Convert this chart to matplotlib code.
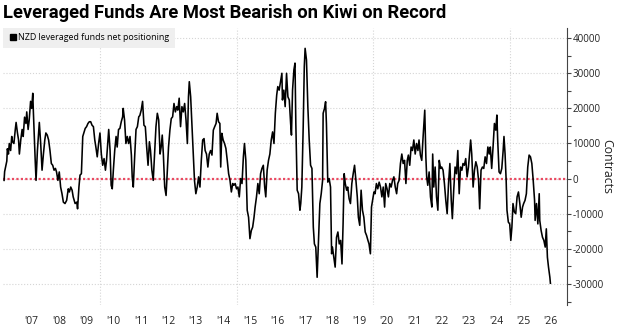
import matplotlib
matplotlib.use("Agg")
import matplotlib.pyplot as plt
from matplotlib.lines import Line2D
from matplotlib.ticker import FuncFormatter, MultipleLocator, FixedLocator

# NZD leveraged funds net positioning, thousands of contracts
dates = [
    2006.49, 2006.51, 2006.59, 2006.61, 2006.65, 2006.68, 2006.73, 2006.77, 2006.80, 2006.85,
    2006.90, 2006.93, 2006.98, 2007.02, 2007.05, 2007.10, 2007.15, 2007.19, 2007.24, 2007.29,
    2007.32, 2007.37, 2007.41, 2007.46, 2007.50, 2007.54, 2007.56, 2007.60, 2007.63, 2007.66,
    2007.71, 2007.78, 2007.83, 2007.88, 2007.93, 2007.98, 2008.02, 2008.07, 2008.12, 2008.17,
    2008.22, 2008.27, 2008.32, 2008.37, 2008.41, 2008.46, 2008.51, 2008.56, 2008.61, 2008.66,
    2008.72, 2008.78, 2008.84, 2008.88, 2008.93, 2008.98, 2009.02, 2009.09, 2009.15, 2009.18,
    2009.23, 2009.27, 2009.32, 2009.37, 2009.41, 2009.46, 2009.51, 2009.56, 2009.61, 2009.66,
    2009.71, 2009.76, 2009.81, 2009.85, 2009.90, 2009.95, 2010.00, 2010.05, 2010.10, 2010.15,
    2010.20, 2010.24, 2010.32, 2010.37, 2010.41, 2010.45, 2010.49, 2010.54, 2010.59, 2010.63,
    2010.68, 2010.73, 2010.78, 2010.83, 2010.85, 2010.90, 2010.95, 2011.00, 2011.05, 2011.10,
    2011.15, 2011.18, 2011.22, 2011.27, 2011.32, 2011.37, 2011.42, 2011.46, 2011.51, 2011.56,
    # 2011 - 2016
    2011.61, 2011.66, 2011.71, 2011.76, 2011.81, 2011.85, 2011.90, 2011.95, 2012.00, 2012.05,
    2012.10, 2012.15, 2012.20, 2012.24, 2012.28, 2012.32, 2012.37, 2012.42, 2012.46, 2012.51,
    2012.56, 2012.61, 2012.66, 2012.71, 2012.76, 2012.81, 2012.85, 2012.90, 2012.95, 2013.00,
    2013.05, 2013.10, 2013.15, 2013.20, 2013.24, 2013.27, 2013.32, 2013.37, 2013.42, 2013.46,
    2013.51, 2013.56, 2013.61, 2013.66, 2013.71, 2013.76, 2013.81, 2013.85, 2013.90, 2013.95,
    2014.00, 2014.05, 2014.10, 2014.15, 2014.20, 2014.25, 2014.29, 2014.34, 2014.39, 2014.42,
    2014.46, 2014.51, 2014.56, 2014.61, 2014.66, 2014.71, 2014.76, 2014.81, 2014.86, 2014.90,
    2014.95, 2015.00, 2015.05, 2015.10, 2015.15, 2015.20, 2015.25, 2015.29, 2015.34, 2015.39,
    2015.44, 2015.49, 2015.54, 2015.59, 2015.64, 2015.68, 2015.73, 2015.78, 2015.83, 2015.88,
    2015.93, 2015.98, 2016.03, 2016.07, 2016.12, 2016.17, 2016.22, 2016.27, 2016.32, 2016.37,
    2016.42, 2016.47, 2016.51, 2016.56, 2016.61, 2016.66,
    # 2016 - 2021
    2016.68, 2016.73, 2016.78, 2016.83, 2016.88, 2016.93, 2016.98, 2017.01, 2017.05, 2017.10,
    2017.14, 2017.17, 2017.22, 2017.27, 2017.32, 2017.35, 2017.39, 2017.44, 2017.48, 2017.51,
    2017.56, 2017.61, 2017.66, 2017.71, 2017.76, 2017.81, 2017.85, 2017.90, 2017.95, 2018.00,
    2018.05, 2018.10, 2018.15, 2018.17, 2018.22, 2018.26, 2018.29, 2018.34, 2018.39, 2018.44,
    2018.48, 2018.51, 2018.56, 2018.61, 2018.66, 2018.71, 2018.76, 2018.81, 2018.86, 2018.90,
    2018.94, 2018.98, 2019.03, 2019.07, 2019.12, 2019.17, 2019.22, 2019.27, 2019.32, 2019.37,
    2019.42, 2019.46, 2019.51, 2019.56, 2019.61, 2019.66, 2019.71, 2019.76, 2019.81, 2019.85,
    2019.90, 2019.94, 2019.98, 2020.03, 2020.07, 2020.12, 2020.17, 2020.22, 2020.27, 2020.32,
    2020.37, 2020.42, 2020.46, 2020.51, 2020.56, 2020.61, 2020.66, 2020.71, 2020.76, 2020.81,
    2020.86, 2020.90, 2020.95, 2021.00, 2021.05, 2021.10, 2021.15, 2021.20, 2021.25, 2021.29,
    2021.34, 2021.39, 2021.44, 2021.49, 2021.54, 2021.59, 2021.64, 2021.68, 2021.73, 2021.78,
    2021.83, 2021.89,
    # 2021 - 2026
    2021.93, 2021.96, 2022.00, 2022.05, 2022.10, 2022.15, 2022.18, 2022.22, 2022.27, 2022.32,
    2022.37, 2022.42, 2022.47, 2022.51, 2022.56, 2022.61, 2022.66, 2022.71, 2022.76, 2022.81,
    2022.86, 2022.90, 2022.95, 2023.00, 2023.05, 2023.10, 2023.15, 2023.20, 2023.25, 2023.29,
    2023.34, 2023.39, 2023.44, 2023.49, 2023.54, 2023.57, 2023.61, 2023.66, 2023.71, 2023.76,
    2023.81, 2023.86, 2023.90, 2023.95, 2024.00, 2024.05, 2024.10, 2024.15, 2024.20, 2024.25,
    2024.29, 2024.34, 2024.39, 2024.44, 2024.49, 2024.53, 2024.56, 2024.61, 2024.66, 2024.71,
    2024.76, 2024.79, 2024.83, 2024.87, 2024.90, 2024.95, 2025.00, 2025.04, 2025.08, 2025.12,
    2025.17, 2025.22, 2025.27, 2025.32, 2025.37, 2025.42, 2025.47, 2025.51, 2025.56, 2025.61,
    2025.66, 2025.71, 2025.76, 2025.81, 2025.86, 2025.91, 2025.93, 2025.98, 2026.03, 2026.08,
    2026.10, 2026.15, 2026.20, 2026.25, 2026.30, 2026.34, 2026.38, 2026.42, 2026.47, 2026.49,
]
net_k = [
    -0.5, 2.0, 5.0, 8.5, 7.0, 10.0, 8.0, 12.0, 10.5, 10.0,
    14.0, 16.0, 13.0, 11.0, 7.0, 11.0, 14.0, 12.0, 17.5, 15.7,
    19.0, 14.0, 16.7, 22.0, 20.0, 24.3, 19.5, 11.0, 5.0, -0.5,
    8.0, 16.0, 10.0, 2.4, 7.0, 11.0, 13.0, 12.4, 11.0, 8.0,
    4.3, 3.8, 2.4, 2.9, 1.9, -0.5, 1.9, -2.4, -4.3, -6.7,
    -7.1, -6.2, -2.9, -3.8, -2.4, -3.3, -5.2, -7.1, -6.7, -8.6,
    -2.4, 1.0, 1.4, 12.0, 13.0, 14.3, 14.8, 15.7, 16.2, 16.2,
    15.2, 14.8, 11.0, 9.0, 6.2, 10.0, 13.0, 7.0, 3.8, 5.7,
    2.4, 5.2, 14.0, 8.0, -1.9, -2.9, 2.4, 8.0, 12.0, 9.0,
    14.0, 14.3, 16.2, 17.6, 20.0, 16.7, 10.0, 12.0, 10.0, 12.0,
    6.7, 0.5, -2.4, 6.2, 14.0, 14.8, 17.6, 18.0, 19.5, 22.0,
    15.2, 14.8, 9.0, 3.8, 10.5, 8.0, 2.4, -0.5, 7.0, 14.8,
    18.6, 16.7, 7.0, 9.0, 12.4, 7.0, -2.4, -4.8, 1.4, 9.0,
    13.8, 17.1, 17.6, 21.4, 19.0, 20.5, 19.5, 22.9, 14.8, 20.5,
    19.0, 21.4, 16.7, 10.0, 23.3, 27.6, 23.3, 14.8, 6.2, -0.5,
    -4.3, -2.4, 0.5, -2.4, 5.2, 11.0, 11.4, 8.0, 7.0, 3.3,
    7.0, 8.0, 6.7, 13.8, 14.8, 15.7, 18.6, 16.2, 15.7, 3.3,
    12.9, 11.0, 10.0, 8.6, 5.2, 1.4, -0.5, -3.8, -1.4, -1.9,
    -1.4, -2.9, -2.4, -5.2, 0.0, -1.4, 6.2, 10.0, 5.2, -9.0,
    -11.0, -17.1, -14.8, -13.8, -11.0, -8.1, -5.2, -1.4, -4.3, 1.4,
    2.9, 3.8, -2.4, -5.2, 2.4, 5.2, 7.0, 11.0, 13.3, 10.0,
    18.6, 23.8, 26.2, 25.2, 27.6, 30.0,
    22.4, 25.2, 20.5, 30.0, 23.3, 22.4, 15.7, 12.4, 25.2, 31.0,
    32.9, 15.7, -3.3, -4.3, -9.0, -7.1, -2.4, 14.8, 31.9, 37.1,
    33.8, 20.5, 11.0, 3.8, 2.9, -13.8, -18.6, -19.5, -28.1, -17.6,
    -7.1, -4.3, -0.5, 18.6, 20.0, 21.9, 15.7, -1.0, 0.0, -2.4,
    -21.4, -19.5, -22.4, -25.2, -16.7, -15.2, -18.6, -17.6, -24.3, -12.9,
    1.4, -1.4, -3.3, -2.4, -5.7, -7.1, -1.4, 1.4, 3.8, -0.5,
    -5.2, -11.0, -13.3, -3.3, -9.0, -11.0, -15.2, -16.2, -17.6, -18.6,
    -21.4, -8.1, -6.2, -3.8, -4.3, -1.4, -2.9, -1.0, -2.4, -5.2,
    -2.4, -8.1, -1.4, -2.9, -5.2, -1.4, -2.4, -0.5, 0.5, -2.4,
    -4.3, -1.4, -0.5, 4.3, 7.0, 4.3, 5.2, -1.4, 5.2, 6.7,
    3.8, 9.0, 8.0, 11.0, 7.0, 10.0, 8.0, 11.0, 6.7, 5.2,
    12.0, 19.5,
    6.2, 0.5, -1.9, 1.9, -5.2, -8.1, 7.0, -2.4, 3.3, -5.2,
    -9.0, 5.2, 2.9, 3.3, 2.4, -1.4, -6.2, -10.0, -1.4, 4.3,
    -6.2, -11.4, -3.3, 3.3, 1.4, 8.0, -4.3, 3.3, 2.4, 4.3,
    3.8, 5.7, 0.5, 3.3, 8.0, 11.0, 7.0, -2.4, 2.4, 4.8,
    3.3, -0.5, -8.6, 2.4, 3.3, 2.9, 6.2, 4.3, 9.0, 7.0,
    9.0, 2.9, 9.0, 15.7, 13.8, 18.1, 11.0, 1.9, 1.4, 2.9,
    8.0, 12.0, 7.0, -0.5, -9.0, -12.4, -12.9, -17.6, -13.8, -7.1,
    -9.5, -10.0, -5.2, -3.8, -7.1, -11.0, -8.1, -7.1, -6.2, -4.3,
    3.3, 6.7, 6.2, 4.3, -0.5, -6.2, -11.9, -7.1, -12.9, -4.3,
    -11.9, -14.8, -16.7, -17.6, -19.5, -14.3, -22.4, -25.2, -28.1, -29.8,
]

years = list(range(2007, 2027))
year_labels = ["'" + str(y)[2:] for y in years]

plt.rcParams['font.family'] = ['Open Sans', 'DejaVu Sans']

fig = plt.figure(figsize=(6.23, 3.33), dpi=100)
ax = fig.add_axes([0.0048, 0.084, 0.905, 0.832])

ax.plot(dates, net_k, color="black", lw=1.15, zorder=3)
ax.axhline(0, color="#ea4a62", lw=1.6, ls=(0, (1, 1)), zorder=2)

ax.set_xlim(2006.45, 2027.09)
ax.set_ylim(-36, 42.9)

# y axis on the right
ax.yaxis.tick_right()
ax.yaxis.set_label_position("right")
ax.yaxis.set_major_locator(MultipleLocator(10))
ax.yaxis.set_minor_locator(MultipleLocator(5))
ax.yaxis.set_major_formatter(FuncFormatter(lambda v, p: f"{v * 1000:.0f}"))
ax.tick_params(axis="y", which="both", length=3, width=0.8, color="#444444",
               pad=1, labelsize=7, labelcolor="#222222")
ax.set_ylabel("Contracts", rotation=270, labelpad=7, fontsize=8.8, color="#222222")

# x axis: labels mid-year, grid on 5-year marks
ax.xaxis.set_major_locator(FixedLocator([y + 0.5 for y in years]))
ax.set_xticklabels(year_labels)
ax.xaxis.set_minor_locator(FixedLocator([2010, 2015, 2020, 2025]))
ax.tick_params(axis="x", which="both", length=0, pad=8, labelsize=7.5, labelcolor="#222222")

ax.grid(axis="y", which="major", color="#d5d5d5", ls=":", lw=0.8)
ax.grid(axis="x", which="minor", color="#d5d5d5", ls=":", lw=0.8)

for s in ["left", "top", "bottom"]:
    ax.spines[s].set_visible(False)
ax.spines["right"].set_color("#444444")
ax.spines["right"].set_linewidth(0.8)

handle = Line2D([], [], marker="s", color="black", ls="none", markersize=4.5)
leg = ax.legend([handle], ["NZD leveraged funds net positioning"], loc="upper left",
                bbox_to_anchor=(0, 1), borderaxespad=0, frameon=True, fancybox=False,
                fontsize=6.4, handletextpad=0.1, handlelength=1.0, borderpad=0.6)
leg.get_frame().set_facecolor("#efefef")
leg.get_frame().set_edgecolor("none")
leg.get_frame().set_alpha(1)

fig.text(0.005, 0.96, "Leveraged Funds Are Most Bearish on Kiwi on Record",
         fontsize=13.2, fontweight="bold", family="Roboto",
         va="center", ha="left")

fig.savefig("out.png", dpi=100)
